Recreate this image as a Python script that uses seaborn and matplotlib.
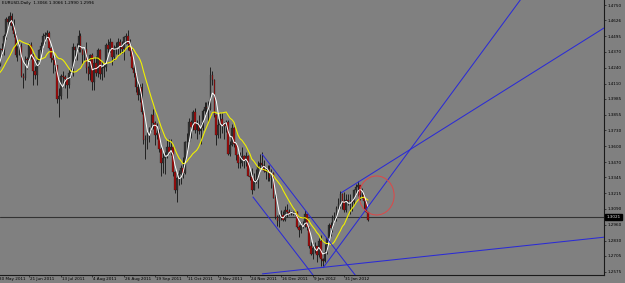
import numpy as np
import pandas as pd
import matplotlib
matplotlib.use("Agg")
import matplotlib.pyplot as plt
import matplotlib.transforms as mtransforms
from matplotlib.patches import Ellipse
import seaborn as sns

# ---------------- data (EURUSD, Daily; bar 0 = 30 May 2011) ----------------
opens = [1.4315, 1.4265, 1.4390, 1.4385, 1.4500, 1.4640, 1.4615, 1.4660, 1.4580, 1.4510,
         1.4345, 1.4405, 1.4420, 1.4175, 1.4155, 1.4310, 1.4305, 1.4425, 1.4345, 1.4210,
         1.4180, 1.4290, 1.4380, 1.4420, 1.4500, 1.4505, 1.4525, 1.4400, 1.4320, 1.4300,
         1.4260, 1.3985, 1.4010, 1.4170, 1.4165, 1.4150, 1.4100, 1.4200, 1.4200, 1.4410,
         1.4385, 1.4380, 1.4500, 1.4380, 1.4345, 1.4390, 1.4240, 1.4185, 1.4340, 1.4120,
         1.4275, 1.4195, 1.4385, 1.4185, 1.4235, 1.4245, 1.4425, 1.4395, 1.4445, 1.4325,
         1.4395, 1.4405, 1.4450, 1.4405, 1.4390, 1.4490, 1.4500, 1.4435, 1.4375, 1.4240,
         1.4200, 1.4080, 1.4020, 1.4080, 1.3880, 1.3650, 1.3660, 1.3690, 1.3750, 1.3850,
         1.3790, 1.3690, 1.3710, 1.3580, 1.3460, 1.3500, 1.3530, 1.3590, 1.3550, 1.3590,
         1.3390, 1.3240, 1.3340, 1.3370, 1.3420, 1.3380, 1.3630, 1.3635, 1.3800, 1.3760,
         1.3880, 1.3730, 1.3780, 1.3720, 1.3750, 1.3890, 1.3920, 1.3910, 1.3900, 1.4180,
         1.4140, 1.3850, 1.3690, 1.3770, 1.3820, 1.3780, 1.3765, 1.3800, 1.3540, 1.3610,
         1.3750, 1.3620, 1.3530, 1.3460, 1.3460, 1.3520, 1.3480, 1.3520, 1.3360, 1.3350,
         1.3240, 1.3320, 1.3320, 1.3440, 1.3460, 1.3450, 1.3400, 1.3390, 1.3410, 1.3340,
         1.3380, 1.3180, 1.3020, 1.2990, 1.3030, 1.3040, 1.3000, 1.3080, 1.3060, 1.3050,
         1.3050, 1.3055, 1.3060, 1.2940, 1.2920, 1.2960, 1.2950, 1.3050, 1.2940, 1.2790,
         1.2720, 1.2770, 1.2790, 1.2710, 1.2830, 1.2680, 1.2665, 1.2735, 1.2850, 1.2960,
         1.2930, 1.3015, 1.3030, 1.3100, 1.3130, 1.3210, 1.3150, 1.3080, 1.3160, 1.3150,
         1.3150, 1.3145, 1.3240, 1.3270, 1.3280, 1.3200, 1.3200, 1.3150, 1.3066]
highs = [1.4330, 1.4400, 1.4440, 1.4515, 1.4650, 1.4660, 1.4695, 1.4685, 1.4640, 1.4520,
         1.4420, 1.4450, 1.4440, 1.4200, 1.4335, 1.4325, 1.4440, 1.4450, 1.4355, 1.4250,
         1.4310, 1.4395, 1.4450, 1.4525, 1.4530, 1.4545, 1.4535, 1.4420, 1.4345, 1.4320,
         1.4265, 1.4075, 1.4190, 1.4210, 1.4180, 1.4155, 1.4225, 1.4240, 1.4440, 1.4420,
         1.4440, 1.4545, 1.4525, 1.4395, 1.4400, 1.4450, 1.4255, 1.4355, 1.4360, 1.4330,
         1.4335, 1.4400, 1.4395, 1.4290, 1.4280, 1.4440, 1.4470, 1.4480, 1.4450, 1.4425,
         1.4450, 1.4480, 1.4470, 1.4460, 1.4500, 1.4525, 1.4548, 1.4475, 1.4400, 1.4280,
         1.4200, 1.4120, 1.4110, 1.4115, 1.3895, 1.3690, 1.3720, 1.3760, 1.3860, 1.3900,
         1.3805, 1.3785, 1.3740, 1.3590, 1.3545, 1.3550, 1.3650, 1.3660, 1.3660, 1.3600,
         1.3395, 1.3350, 1.3405, 1.3450, 1.3510, 1.3640, 1.3705, 1.3830, 1.3810, 1.3895,
         1.3910, 1.3810, 1.3850, 1.3790, 1.3905, 1.3960, 1.3960, 1.3965, 1.4245, 1.4210,
         1.4150, 1.3860, 1.3820, 1.3870, 1.3870, 1.3800, 1.3815, 1.3815, 1.3640, 1.3780,
         1.3760, 1.3630, 1.3540, 1.3550, 1.3590, 1.3530, 1.3555, 1.3525, 1.3400, 1.3420,
         1.3380, 1.3410, 1.3480, 1.3540, 1.3550, 1.3490, 1.3430, 1.3450, 1.3450, 1.3415,
         1.3390, 1.3210, 1.3040, 1.3050, 1.3080, 1.3070, 1.3110, 1.3125, 1.3090, 1.3070,
         1.3070, 1.3080, 1.3070, 1.2960, 1.2980, 1.2990, 1.3080, 1.3050, 1.2945, 1.2815,
         1.2810, 1.2815, 1.2790, 1.2850, 1.2880, 1.2690, 1.2800, 1.2850, 1.2970, 1.2985,
         1.3035, 1.3060, 1.3110, 1.3180, 1.3235, 1.3215, 1.3230, 1.3210, 1.3210, 1.3210,
         1.3160, 1.3250, 1.3290, 1.3320, 1.3285, 1.3260, 1.3210, 1.3165, 1.3066]
lows = [1.4225, 1.4255, 1.4345, 1.4340, 1.4470, 1.4565, 1.4590, 1.4550, 1.4490, 1.4330,
        1.4290, 1.4340, 1.4160, 1.4070, 1.4140, 1.4230, 1.4285, 1.4310, 1.4100, 1.4150,
        1.4100, 1.4260, 1.4350, 1.4390, 1.4440, 1.4475, 1.4390, 1.4285, 1.4200, 1.4210,
        1.3950, 1.3835, 1.3985, 1.4080, 1.4070, 1.3990, 1.4070, 1.4160, 1.4175, 1.4300,
        1.4300, 1.4370, 1.4365, 1.4265, 1.4300, 1.4200, 1.4140, 1.4140, 1.4060, 1.4060,
        1.4175, 1.4160, 1.4150, 1.4140, 1.4160, 1.4215, 1.4370, 1.4370, 1.4265, 1.4300,
        1.4350, 1.4345, 1.4350, 1.4360, 1.4300, 1.4435, 1.4385, 1.4335, 1.4225, 1.4165,
        1.4040, 1.3975, 1.3960, 1.3860, 1.3620, 1.3495, 1.3580, 1.3630, 1.3720, 1.3740,
        1.3610, 1.3660, 1.3550, 1.3360, 1.3380, 1.3370, 1.3500, 1.3540, 1.3530, 1.3360,
        1.3220, 1.3145, 1.3280, 1.3290, 1.3340, 1.3370, 1.3570, 1.3630, 1.3670, 1.3730,
        1.3710, 1.3655, 1.3700, 1.3615, 1.3730, 1.3850, 1.3860, 1.3800, 1.3895, 1.4100,
        1.3840, 1.3610, 1.3670, 1.3665, 1.3710, 1.3660, 1.3715, 1.3530, 1.3520, 1.3600,
        1.3590, 1.3490, 1.3425, 1.3425, 1.3440, 1.3420, 1.3440, 1.3355, 1.3325, 1.3210,
        1.3240, 1.3300, 1.3260, 1.3420, 1.3430, 1.3390, 1.3335, 1.3320, 1.3320, 1.3260,
        1.3180, 1.3010, 1.2950, 1.2940, 1.3000, 1.2990, 1.2990, 1.3020, 1.3035, 1.3035,
        1.3040, 1.3040, 1.2930, 1.2860, 1.2890, 1.2935, 1.2945, 1.2920, 1.2770, 1.2710,
        1.2680, 1.2730, 1.2660, 1.2700, 1.2625, 1.2625, 1.2660, 1.2720, 1.2840, 1.2870,
        1.2900, 1.2975, 1.2990, 1.3090, 1.3100, 1.3090, 1.3060, 1.3060, 1.3120, 1.3050,
        1.3070, 1.3120, 1.3205, 1.3190, 1.3160, 1.3180, 1.3085, 1.3060, 1.2990]
closes = [1.4265, 1.4390, 1.4385, 1.4500, 1.4640, 1.4615, 1.4660, 1.4580, 1.4510, 1.4345,
          1.4405, 1.4420, 1.4175, 1.4155, 1.4310, 1.4305, 1.4425, 1.4345, 1.4210, 1.4180,
          1.4290, 1.4380, 1.4420, 1.4500, 1.4505, 1.4525, 1.4400, 1.4320, 1.4300, 1.4260,
          1.3985, 1.4010, 1.4170, 1.4165, 1.4150, 1.4100, 1.4200, 1.4200, 1.4410, 1.4385,
          1.4380, 1.4500, 1.4380, 1.4345, 1.4390, 1.4240, 1.4185, 1.4340, 1.4120, 1.4275,
          1.4195, 1.4385, 1.4185, 1.4235, 1.4245, 1.4425, 1.4395, 1.4445, 1.4325, 1.4395,
          1.4405, 1.4450, 1.4405, 1.4390, 1.4490, 1.4500, 1.4435, 1.4375, 1.4240, 1.4200,
          1.4080, 1.4020, 1.4080, 1.3880, 1.3650, 1.3660, 1.3690, 1.3750, 1.3850, 1.3790,
          1.3690, 1.3710, 1.3580, 1.3460, 1.3500, 1.3530, 1.3590, 1.3550, 1.3590, 1.3390,
          1.3240, 1.3340, 1.3370, 1.3420, 1.3380, 1.3630, 1.3635, 1.3800, 1.3760, 1.3880,
          1.3730, 1.3780, 1.3720, 1.3750, 1.3890, 1.3920, 1.3910, 1.3900, 1.4180, 1.4140,
          1.3850, 1.3690, 1.3770, 1.3820, 1.3780, 1.3765, 1.3800, 1.3540, 1.3610, 1.3750,
          1.3620, 1.3530, 1.3460, 1.3460, 1.3520, 1.3480, 1.3520, 1.3360, 1.3350, 1.3240,
          1.3320, 1.3320, 1.3440, 1.3460, 1.3450, 1.3400, 1.3390, 1.3410, 1.3340, 1.3380,
          1.3180, 1.3020, 1.2990, 1.3030, 1.3040, 1.3000, 1.3080, 1.3060, 1.3050, 1.3050,
          1.3055, 1.3060, 1.2940, 1.2920, 1.2960, 1.2950, 1.3050, 1.2940, 1.2790, 1.2720,
          1.2770, 1.2790, 1.2710, 1.2830, 1.2680, 1.2665, 1.2735, 1.2850, 1.2960, 1.2930,
          1.3015, 1.3030, 1.3100, 1.3130, 1.3210, 1.3150, 1.3080, 1.3160, 1.3150, 1.3150,
          1.3145, 1.3240, 1.3270, 1.3280, 1.3200, 1.3200, 1.3150, 1.3066, 1.2996]
# closes of the 12 sessions before 30 May 2011 (only feed the moving averages)
warmup_closes = [1.4140, 1.4120, 1.4150, 1.4230, 1.4235, 1.4315,
                 1.4160, 1.4045, 1.4105, 1.4095, 1.4145, 1.4320]

date_labels = ["30 May 2011", "21 Jun 2011", "13 Jul 2011", "4 Aug 2011",
               "26 Aug 2011", "19 Sep 2011", "11 Oct 2011", "2 Nov 2011",
               "24 Nov 2011", "16 Dec 2011", "9 Jan 2012", "31 Jan 2012"]
date_label_bars = [0, 16, 32, 48, 64, 80, 96, 112, 128, 144, 160, 176]
price_ticks = [1.4750, 1.4626, 1.4495, 1.4370, 1.4240, 1.4110, 1.3985, 1.3855, 1.3730,
               1.3600, 1.3470, 1.3345, 1.3215, 1.3090, 1.2960, 1.2830, 1.2705, 1.2575]
price_tick_labels = ["1.4750", "1.4626", "1.4495", "1.4370", "1.4240", "1.4110", "1.3985",
                     "1.3855", "1.3730", "1.3600", "1.3470", "1.3345", "1.3215", "1.3090",
                     "1.2960", "1.2830", "1.2705", "1.2575"]
title_text = "EURUSD,Daily  1.3066 1.3066 1.2990 1.2996"
bid_price = 1.3021
bid_label = "1.3021"

# drawn objects: (bar, price) anchor pairs; rays start at the first anchor
ray_steep = [(165.2, 1.2608), (209.3, 1.3569)]
ray_upper = [(174.3, 1.3219), (307.9, 1.4563)]
ray_bottom = [(134.2, 1.2559), (307.9, 1.2858)]
channel_top = [(134.2, 1.3536), (181.5, 1.2550)]
channel_low = [(129.5, 1.3188), (160.8, 1.2535)]
circle_center = (192.4, 1.3198)
circle_size = (17.8, 0.0318)

fast_period = 4
slow_period = 13

# ---------------- figure ----------------
BG = "#808080"
sns.set_style("white", rc={"axes.facecolor": BG, "figure.facecolor": BG})
plt.rcParams["font.family"] = ["DejaVu Sans"]

fig = plt.figure(figsize=(6.25, 2.83), dpi=100, facecolor=BG)
ax = fig.add_axes([0.0, 8 / 283, 604 / 625, 275 / 283])
ax.set_facecolor(BG)

df = pd.DataFrame({"open": opens, "high": highs, "low": lows, "close": closes})
df["bar"] = np.arange(len(df))

# moving averages (computed from closes incl. the warm-up sessions)
all_close = pd.Series(warmup_closes + closes)
all_bar = np.arange(-len(warmup_closes), len(closes))
ma = pd.DataFrame({"bar": all_bar,
                   "fast": all_close.rolling(fast_period).mean(),
                   "slow": all_close.rolling(slow_period).mean()}).dropna()

up = df["close"] >= df["open"]
body_lo = np.minimum(df["open"], df["close"])
body_h = np.maximum(np.abs(df["close"] - df["open"]), 0.0003)

ax.vlines(df["bar"], df["low"], df["high"], color="#1a1a1a", lw=0.65, zorder=2)
ax.bar(df["bar"][up], body_h[up], bottom=body_lo[up], width=0.85,
       color="#333333", edgecolor="#1a1a1a", linewidth=0.2, zorder=3)
ax.bar(df["bar"][~up], body_h[~up], bottom=body_lo[~up], width=0.85,
       color="#a00c0c", edgecolor="#1a1a1a", linewidth=0.2, zorder=3)

sns.lineplot(data=ma, x="bar", y="slow", ax=ax, color="#f0f000", lw=0.8, zorder=4)
sns.lineplot(data=ma, x="bar", y="fast", ax=ax, color="white", lw=0.7, zorder=5)

# bid line
ax.axhline(bid_price, color="#333333", lw=0.8, zorder=1)

# trend lines
BLUE = "#2b2bd6"
def draw_ray(pts):
    (x0, y0), (x1, y1) = pts
    k = 50
    xe, ye = x0 + (x1 - x0) * k, y0 + (y1 - y0) * k
    ax.plot([x0, xe], [y0, ye], color=BLUE, lw=0.75, zorder=6, solid_capstyle="butt")

for pts in (ray_steep, ray_upper, ray_bottom, channel_top, channel_low):
    draw_ray(pts)

ax.add_patch(Ellipse(circle_center, circle_size[0], circle_size[1], fill=False,
                     edgecolor="#e04646", lw=0.7, zorder=7))

ax.set_xlim(1.12, 307.9)
ax.set_ylim(1.2550, 1.4791)

# axes styling
for s in ("left", "top"):
    ax.spines[s].set_visible(False)
for s in ("right", "bottom"):
    ax.spines[s].set_visible(True)
    ax.spines[s].set_color("#1a1a1a")
    ax.spines[s].set_linewidth(0.8)

ax.yaxis.tick_right()
ax.set_yticks(price_ticks)
ax.set_yticklabels(price_tick_labels)
ax.tick_params(axis="y", right=True, left=False, length=1.6, width=0.5, color="#1a1a1a",
               labelsize=3.0, pad=1.2, labelcolor="black")
ax.set_xticks([b for b in date_label_bars if b > 1.12])
ax.set_xticklabels([])
ax.tick_params(axis="x", bottom=True, length=1.6, width=0.5, color="#1a1a1a")
ax.set_xlabel("")
ax.set_ylabel("")
ax.grid(False)

trans = mtransforms.blended_transform_factory(ax.transData, ax.transAxes)
for b, lab in zip(date_label_bars, date_labels):
    ax.text(b + 0.4, -0.006, lab, transform=trans, ha="left", va="top",
            fontsize=3.0, color="black", clip_on=False)

ax.text(0.003, 0.996, title_text, transform=ax.transAxes, ha="left", va="top",
        fontsize=3.0, color="black")

ptrans = mtransforms.blended_transform_factory(ax.transAxes, ax.transData)
ax.text(1.004, bid_price, bid_label, transform=ptrans, ha="left", va="center",
        fontsize=3.0, color="#e0e0e0", clip_on=False,
        bbox=dict(boxstyle="square,pad=0.25", fc="black", ec="black"))

fig.savefig("out.png", dpi=100, facecolor=BG)
